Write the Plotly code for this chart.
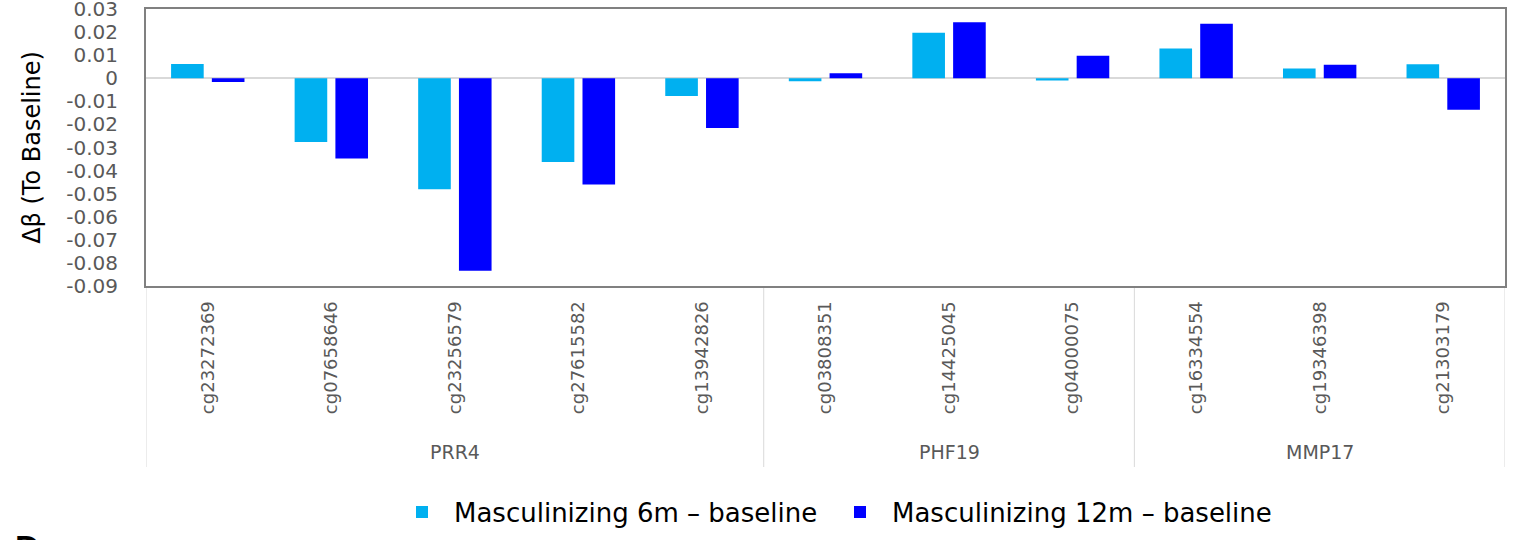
import plotly.graph_objects as go

# ---- data ----
probes = ["cg23272369", "cg07658646", "cg23256579", "cg27615582", "cg13942826",
          "cg03808351", "cg14425045", "cg04000075",
          "cg16334554", "cg19346398", "cg21303179"]
genes = ["PRR4", "PHF19", "MMP17"]
gene_centers = [2, 6, 9]          # category index at the middle of each gene group
gene_bounds = [-0.5, 4.5, 7.5, 10.5]
m6 = [0.0062, -0.0276, -0.0481, -0.0363, -0.0077,
      -0.0012, 0.0198, -0.0009,
      0.0130, 0.0043, 0.0061]
m12 = [-0.0016, -0.0348, -0.0835, -0.0461, -0.0215,
       0.0022, 0.0243, 0.0098,
       0.0237, 0.0059, -0.0136]
series_names = ["Masculinizing 6m \u2013 baseline", "Masculinizing 12m \u2013 baseline"]
y_tickvals = [0.03, 0.02, 0.01, 0, -0.01, -0.02, -0.03, -0.04, -0.05, -0.06, -0.07, -0.08, -0.09]
y_ticktext = ["0.03", "0.02", "0.01", "0", "-0.01", "-0.02", "-0.03", "-0.04",
              "-0.05", "-0.06", "-0.07", "-0.08", "-0.09"]

LIGHT = "#00B0F0"
DARK = "#0000FF"
GRAY_TXT = "#595959"
FONT = "DejaVu Sans"

W, H = 1519, 540
ML, MR, MT, MB = 146, 14, 9, 254
plot_h = H - MT - MB
plot_w = W - ML - MR

def py(pix):  # pixel y -> paper y
    return (H - MB - pix) / plot_h

def px(pix):  # pixel x -> paper x
    return (pix - ML) / plot_w

fig = go.Figure()
fig.add_trace(go.Bar(x=probes, y=m6, name=series_names[0], legend="legend",
                     marker=dict(color=LIGHT, line=dict(width=0))))
fig.add_trace(go.Bar(x=probes, y=m12, name=series_names[1], legend="legend2",
                     marker=dict(color=DARK, line=dict(width=0))))

shapes = []
for b in gene_bounds:
    shapes.append(dict(type="line", xref="x", yref="paper", x0=b, x1=b, y0=0, y1=py(467),
                       line=dict(color="#D9D9D9", width=1), layer="below"))

annotations = []
for g, c in zip(genes, gene_centers):
    annotations.append(dict(text=g, xref="x", yref="paper", x=c, y=py(452), showarrow=False,
                            xanchor="center", yanchor="middle",
                            font=dict(family=FONT, size=19, color=GRAY_TXT)))
annotations.append(dict(text="<b>D</b>", xref="paper", yref="paper", x=px(13), y=py(526),
                        xanchor="left", yanchor="top", showarrow=False,
                        font=dict(family="Liberation Sans", size=34, color="black")))

legend_style = dict(orientation="h", yanchor="middle", xanchor="left", y=py(512),
                    font=dict(family=FONT, size=26, color="black"), itemwidth=54,
                    bgcolor="rgba(0,0,0,0)")

fig.update_layout(
    width=W, height=H,
    margin=dict(l=ML, r=MR, t=MT, b=MB, pad=0, autoexpand=False),
    paper_bgcolor="white", plot_bgcolor="white",
    barmode="group", bargap=0.34, bargroupgap=0.2,
    showlegend=True,
    legend=dict(x=px(390), **legend_style),
    legend2=dict(x=px(828), **legend_style),
    shapes=shapes, annotations=annotations,
)
fig.update_xaxes(
    type="category", tickangle=-90, showgrid=False, automargin=False,
    tickfont=dict(family=FONT, size=18, color=GRAY_TXT),
    ticks="", ticklabelstandoff=6,
    showline=True, mirror=True, linecolor="#808080", linewidth=2,
    range=[-0.5, 10.5],
)
fig.update_yaxes(
    range=[-0.0901, 0.0301], tickvals=y_tickvals, ticktext=y_ticktext, automargin=False,
    tickfont=dict(family=FONT, size=20, color=GRAY_TXT), ticklabeloverflow="allow",
    showgrid=False, zeroline=True, zerolinecolor="#D9D9D9", zerolinewidth=2,
    showline=True, mirror=True, linecolor="#808080", linewidth=2,
    ticks="", ticklabelstandoff=22,
    title=dict(text="\u0394\u03b2 (To Baseline)", font=dict(family=FONT, size=24, color="black"),
               standoff=19),
)

fig.write_html("out.html", config={"displayModeBar": False},
               post_script="document.body.style.margin='0px';")
